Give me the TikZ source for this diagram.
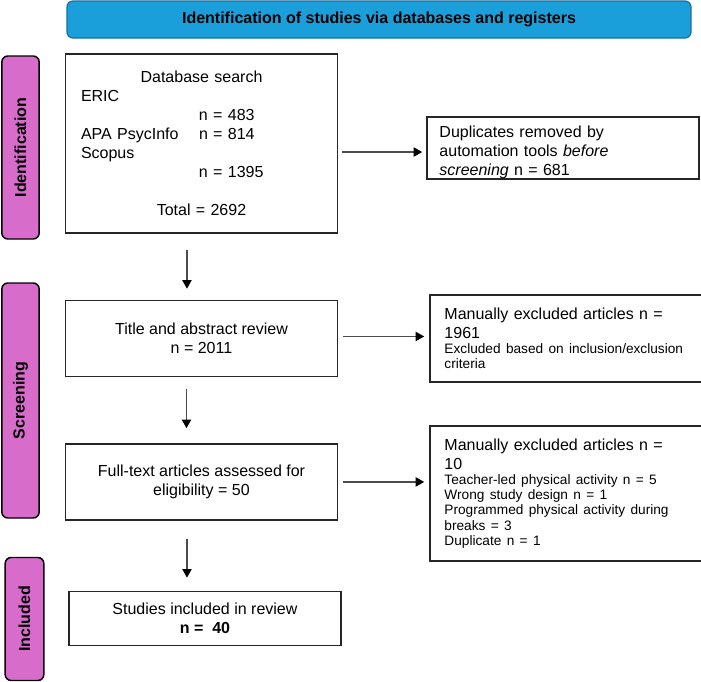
\documentclass[tikz,border=0pt]{standalone}
\usepackage{fontspec}
\setmainfont{Liberation Sans}
\usetikzlibrary{positioning,arrows.meta}
\definecolor{bannerblue}{HTML}{1A9FDB}
\definecolor{bannerline}{HTML}{1A6E9E}
\definecolor{phasepink}{HTML}{D76CCB}
\newcommand\exsmall{\fontsize{10.25}{11.4}\selectfont}

\begin{document}
\begin{tikzpicture}[x=0.75pt,y=-0.75pt,
  box/.style={rectangle,draw=black!85,line width=1.1pt,minimum width=204pt,inner sep=0pt,font=\fontsize{12}{14.25}\selectfont},
  side/.style={rectangle,rounded corners=4.5pt,draw=black,line width=1.1pt,fill=phasepink,rotate=90,minimum height=28pt,font=\fontsize{12}{14.25}\selectfont\bfseries},
  banner/.style={rectangle,rounded corners=4.5pt,draw=bannerline,line width=0.9pt,fill=bannerblue,minimum width=468pt,minimum height=27.75pt,font=\fontsize{12}{14.25}\selectfont\bfseries},
  arr/.style={-{Triangle[length=6.5pt,width=7pt,color=black]},line width=0.9pt,draw=black!70}]
  \useasboundingbox (0,0) rectangle (701,682);
  \node[banner] (head) at (379,19.5) {Identification of studies via databases and registers};
  \node[side,minimum width=137.25pt] (idph) at (20.5,147.5) {Identification};
  \node[side,minimum width=176.25pt] (scph) at (20.5,400.5) {Screening};
  \node[side,minimum width=92.25pt,minimum height=29pt] (inph) at (24.5,619) {Included};
  % main flow
  \node[box,minimum height=134.25pt,text width=180.75pt,align=left] (db) at (201.5,143.5)
    {\makebox[180.75pt]{Database search}\\
     ERIC\\
     \hspace*{88.5pt}n = 483\\
     \makebox[88.5pt][l]{APA PsycInfo}n = 814\\
     Scopus\\
     \hspace*{88.5pt}n = 1395\\
     \mbox{}\\
     \makebox[180.75pt]{Total = 2692}};
  \node[box,minimum height=57pt,align=center,below=49.5pt of db] (title) {Title and abstract review\\ n = 2011};
  \node[box,minimum height=57pt,align=center,below=49.5pt of title] (full) {Full-text articles assessed for\\ eligibility = 50};
  \node[box,minimum height=40.5pt,align=center,below=52.5pt of full,xshift=2.6pt] (incl) {Studies included in review\\ \textbf{n =\ \ 40}};
  % excluded side
  \node[box,minimum height=46.5pt,text width=185.25pt,align=left,right=66pt of db,yshift=-3.4pt] (dup)
    {\rule{0pt}{15pt}Duplicates removed by\\ automation tools \textit{before}\\ \textit{screening} n = 681};
  \node[box,minimum height=65.25pt,text width=182.25pt,align=left,right=68.25pt of title] (excl1)
    {Manually excluded articles n =\\ 1961\par
     {\exsmall Excluded based on inclusion/exclusion\\ criteria\par}};
  \node[box,minimum height=101.25pt,text width=182.25pt,align=left,right=68.25pt of full,yshift=-8.6pt] (excl2)
    {Manually excluded articles n =\\ 10\par
     {\exsmall Teacher-led physical activity n = 5\\ Wrong study design n = 1\\ Programmed physical activity during\\ breaks = 3\\ Duplicate n = 1\par}};
  \draw[arr,shorten <=12pt,shorten >=8.25pt] ([xshift=-10.9pt]db.south) -- ([xshift=-10.9pt]db.south |- title.north);
  \draw[arr,shorten <=9pt,shorten >=11.25pt] ([xshift=-11.25pt]title.south) -- ([xshift=-11.25pt]title.south |- full.north);
  \draw[arr,shorten <=13.5pt,shorten >=9.75pt] ([xshift=-10.9pt]full.south) -- ([xshift=-10.9pt]full.south |- incl.north);
  \draw[arr,shorten <=3pt,shorten >=3pt] ([yshift=-3pt]dup.west -| db.east) -- ([yshift=-3pt]dup.west);
  \draw[arr,shorten <=3.75pt,shorten >=3.75pt] ([yshift=1.5pt]title.east) -- ([yshift=1.5pt]title.east -| excl1.west);
  \draw[arr,shorten <=3.75pt,shorten >=3.75pt] (full.east) -- (full.east -| excl2.west);
\end{tikzpicture}
\end{document}
